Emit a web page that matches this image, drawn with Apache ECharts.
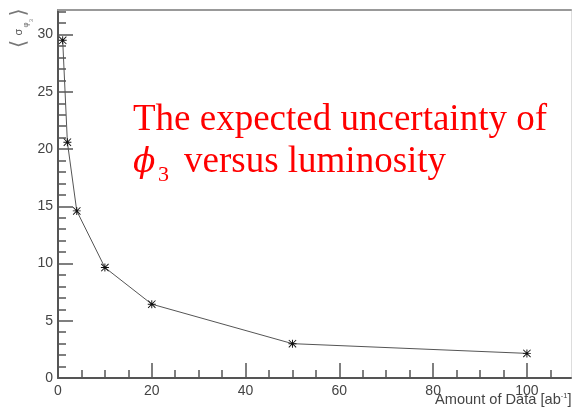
<!DOCTYPE html>
<html>
<head>
<meta charset="utf-8">
<script src="https://cdn.jsdelivr.net/npm/echarts@6/dist/echarts.min.js"></script>
<style>
  html, body { margin: 0; padding: 0; background: #fff; }
  #chart { width: 572px; height: 411px; }
</style>
</head>
<body>
<div id="chart"></div>
<script>
// Luminosity points [ab^-1] and the expected phi3 uncertainty [deg]
const lumi = [1, 2, 4, 10, 20, 50, 100];
const sigma = [29.5, 20.6, 14.6, 9.65, 6.45, 3.0, 2.15];

// Axis ranges, labelled ticks and minor tick steps
const xRange = [0, 109.4];
const yRange = [0, 32.15];
const xTicks = [0, 20, 40, 60, 80, 100];
const yTicks = [0, 5, 10, 15, 20, 25, 30];
const xMinorStep = 5;
const yMinorStep = 1;

function stepsWithin(range, step) {
  const out = [];
  for (let v = range[0]; v <= range[1] + 1e-9; v += step) out.push(v);
  return out;
}
const xMinorTicks = stepsWithin(xRange, xMinorStep);
const yMinorTicks = stepsWithin(yRange, yMinorStep);

const axisGray = '#555';
const labelFont = 'Liberation Sans';
const redText = '#ff0000';

// Plot frame (the same rectangle is used by both grids)
const frame = { left: 58, right: 1, top: 10, bottom: 33, outerBoundsMode: 'none', containLabel: false };

// Asterisk marker
const starPath = 'path://M0 4.4H10V5.6H0Z M4.4 0H5.6V10H4.4Z M0.8 0L10 9.2L9.2 10L0 0.8Z M9.2 0L10 0.8L0.8 10L0 9.2Z';

const chart = echarts.init(document.getElementById('chart'), null, { renderer: 'canvas' });

const hidden = { show: false };

const option = {
  animation: false,
  backgroundColor: '#fff',
  // grid 0: data, labelled axes and frame; grid 1: minor ticks only
  grid: [Object.assign({}, frame), Object.assign({}, frame)],
  xAxis: [
    {
      gridIndex: 0, type: 'value', position: 'bottom', min: xRange[0], max: xRange[1],
      axisLine: { show: true, onZero: false, lineStyle: { color: axisGray, width: 2 } },
      axisTick: { show: true, inside: true, length: 15, customValues: xTicks, lineStyle: { color: axisGray, width: 1.5 } },
      axisLabel: { show: true, margin: 6, color: '#444', fontFamily: labelFont, fontSize: 14, customValues: xTicks },
      splitLine: hidden
    },
    {
      // top edge of the frame
      gridIndex: 0, type: 'value', position: 'top', min: xRange[0], max: xRange[1],
      axisLine: { show: true, onZero: false, lineStyle: { color: '#999', width: 2 } },
      axisTick: hidden, axisLabel: hidden, splitLine: hidden
    },
    {
      // minor ticks on the bottom edge
      gridIndex: 1, type: 'value', position: 'bottom', min: xRange[0], max: xRange[1],
      axisLine: { show: false, onZero: false },
      axisTick: { show: true, inside: true, length: 8, customValues: xMinorTicks, lineStyle: { color: axisGray, width: 1.5 } },
      axisLabel: hidden,
      splitLine: hidden
    }
  ],
  yAxis: [
    {
      gridIndex: 0, type: 'value', position: 'left', min: yRange[0], max: yRange[1],
      axisLine: { show: true, onZero: false, lineStyle: { color: axisGray, width: 2 } },
      axisTick: { show: true, inside: true, length: 15, customValues: yTicks, lineStyle: { color: axisGray, width: 1.5 } },
      axisLabel: { show: true, margin: 5, color: '#444', fontFamily: labelFont, fontSize: 14, customValues: yTicks },
      splitLine: hidden
    },
    {
      // right edge of the frame
      gridIndex: 0, type: 'value', position: 'right', min: yRange[0], max: yRange[1],
      axisLine: { show: true, onZero: false, lineStyle: { color: '#ddd', width: 1 } },
      axisTick: hidden, axisLabel: hidden, splitLine: hidden
    },
    {
      // minor ticks on the left edge
      gridIndex: 1, type: 'value', position: 'left', min: yRange[0], max: yRange[1],
      axisLine: { show: false, onZero: false },
      axisTick: { show: true, inside: true, length: 8, customValues: yMinorTicks, lineStyle: { color: axisGray, width: 1.5 } },
      axisLabel: hidden,
      splitLine: hidden
    }
  ],
  series: [
    {
      type: 'line',
      xAxisIndex: 0,
      yAxisIndex: 0,
      data: lumi.map((x, i) => [x, sigma[i]]),
      lineStyle: { color: '#555', width: 1 },
      symbol: starPath,
      symbolSize: 8,
      itemStyle: { color: '#111' },
      showSymbol: true,
      z: 5
    }
  ],
  graphic: [
    // y-axis title <sigma_phi3>, rotated to read bottom-to-top
    {
      type: 'group',
      x: 20, y: 28,
      rotation: Math.PI / 2,
      children: [
        { type: 'text', x: -16, y: 0, style: { text: '⟨', fontFamily: 'DejaVu Sans', fontSize: 21, fill: '#777', align: 'center', verticalAlign: 'middle' } },
        { type: 'text', x: -4, y: -1, style: { text: 'σ', fontFamily: labelFont, fontSize: 11, fill: '#555', align: 'center', verticalAlign: 'middle' } },
        { type: 'text', x: 3, y: 5.5, style: { text: 'φ', fontFamily: labelFont, fontSize: 8, fill: '#666', align: 'center', verticalAlign: 'middle' } },
        { type: 'text', x: 7.5, y: 11, style: { text: '3', fontFamily: labelFont, fontSize: 6, fill: '#888', align: 'center', verticalAlign: 'middle' } },
        { type: 'text', x: 15.5, y: 0, style: { text: '⟩', fontFamily: 'DejaVu Sans', fontSize: 21, fill: '#777', align: 'center', verticalAlign: 'middle' } }
      ]
    },
    // x-axis title
    {
      type: 'text',
      x: 435, y: 400,
      style: {
        text: '{n|Amount of Data [ab}{u|-1}{n|]}',
        align: 'left',
        verticalAlign: 'middle',
        rich: {
          n: { fontFamily: labelFont, fontSize: 14.6, fill: '#444' },
          u: { fontFamily: labelFont, fontSize: 7.5, fill: '#444', padding: [0, 0, 9, 0] }
        }
      }
    },
    // annotation, first line
    {
      type: 'text',
      x: 133, y: 120.5,
      style: {
        text: 'The expected uncertainty of',
        fontFamily: 'Liberation Serif',
        fontSize: 37,
        fill: redText,
        align: 'left',
        verticalAlign: 'middle'
      }
    },
    // annotation, second line
    {
      type: 'text',
      x: 133, y: 163,
      style: { text: 'ϕ', fontFamily: 'DejaVu Serif', fontStyle: 'italic', fontSize: 33, fill: redText, align: 'left', verticalAlign: 'middle' }
    },
    {
      type: 'text',
      x: 158, y: 175.5,
      style: { text: '3', fontFamily: 'Liberation Serif', fontSize: 22, fill: redText, align: 'left', verticalAlign: 'middle' }
    },
    {
      type: 'text',
      x: 184, y: 162.5,
      style: { text: 'versus luminosity', fontFamily: 'Liberation Serif', fontSize: 37, fill: redText, align: 'left', verticalAlign: 'middle' }
    }
  ]
};

chart.setOption(option);
</script>
</body>
</html>
